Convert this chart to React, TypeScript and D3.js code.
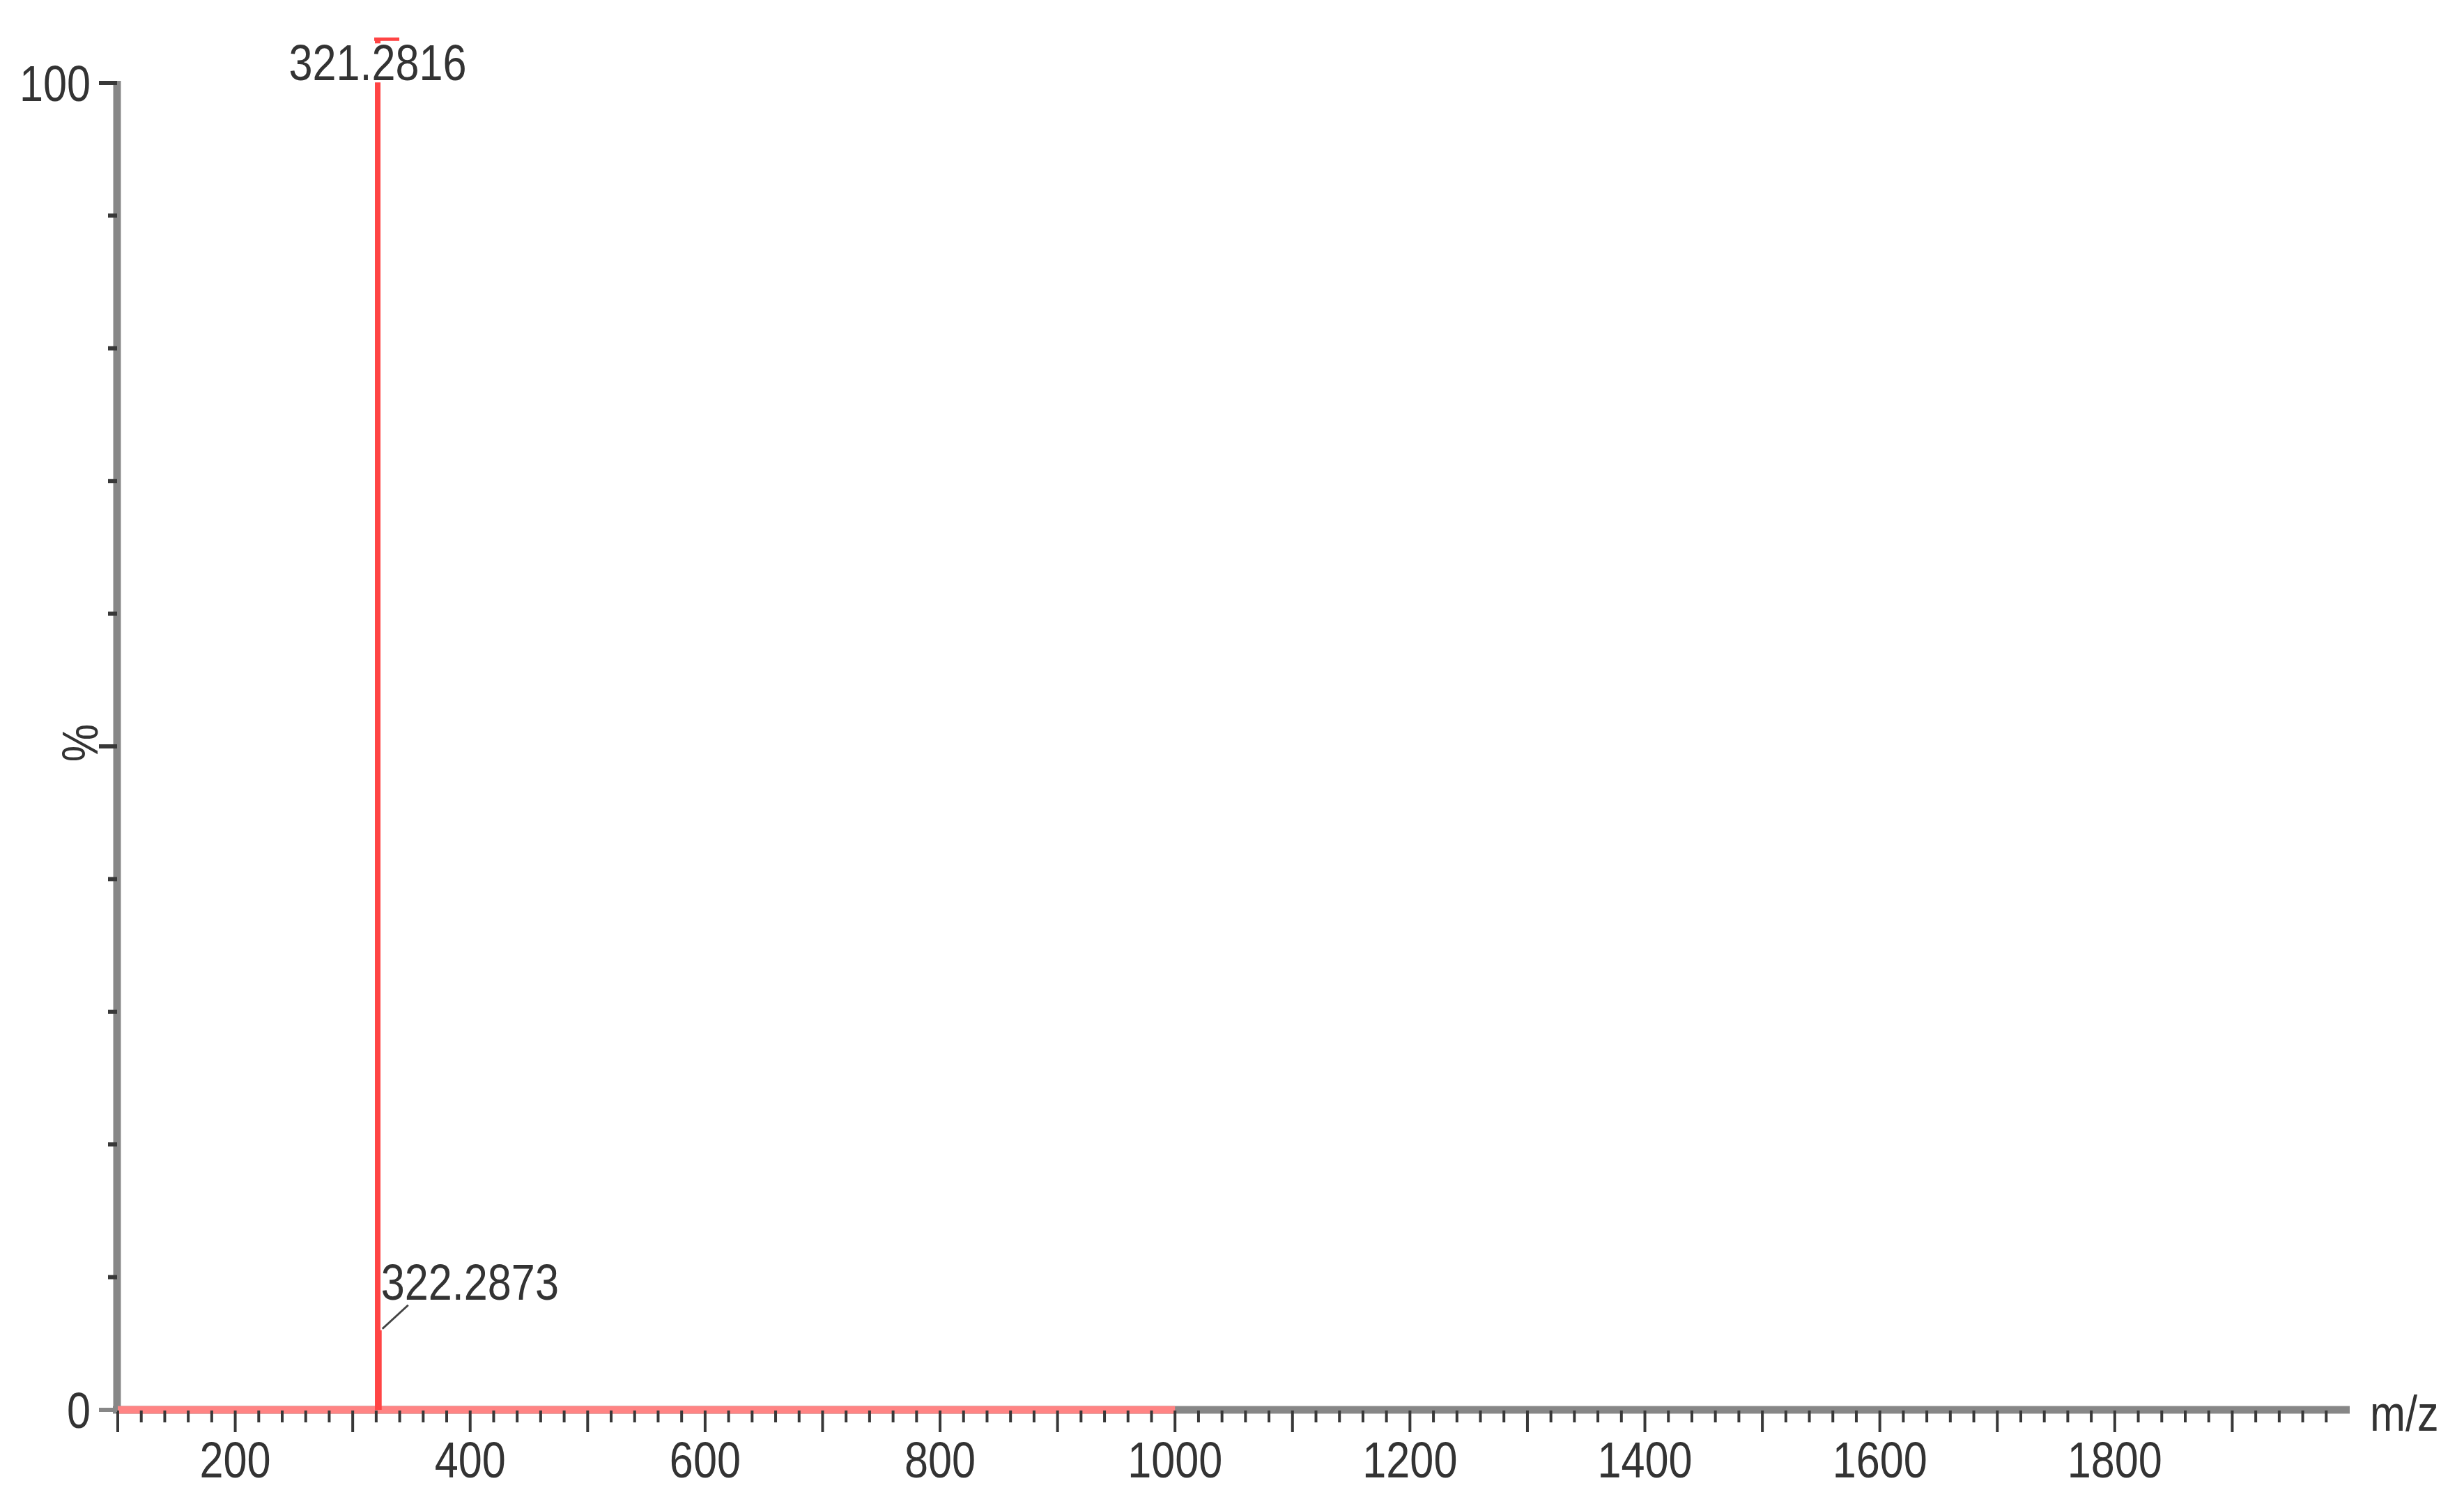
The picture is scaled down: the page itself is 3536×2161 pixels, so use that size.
import React from "react";
import * as d3 from "d3";

const peakMz = [321.2816, 322.2873];
const peakIntensity = [103.4, 6.0];
const peakLabels = ["321.2816", "322.2873"];
const acquiredRange = [100, 1000];
const xDomain = [100, 2000];
const xLabelTicks = [200, 400, 600, 800, 1000, 1200, 1400, 1600, 1800];
const yLabelTicks = [0, 100];
const yMajorTicks = [0, 50, 100];
const yMinorTicks = [10, 20, 30, 40, 60, 70, 80, 90];

const W = 3536;
const H = 2161;
const FONT = "'Liberation Sans', Arial, sans-serif";
const NARROW = 0.85;

function T(props: { x: number; y: number; anchor?: string; rotate?: number; children: any }) {
  const { x, y, anchor, rotate, children } = props;
  return (
    <text
      transform={`translate(${x},${y})${rotate ? ` rotate(${rotate})` : ""} scale(${NARROW},1)`}
      textAnchor={anchor || "start"}
      fontSize={72}
      fill="#333"
    >
      {children}
    </text>
  );
}

export default function App() {
  const x = d3.scaleLinear().domain(xDomain).range([169, 3372]);
  const y = d3.scaleLinear().domain([0, 100]).range([2023, 119]);
  const minorX = d3.range(100, 1981, 20);
  const y0 = y(0);
  const axisGray = "#878787";
  const tickCol = "#383838";

  const p0x = x(peakMz[0]);
  const p0y = y(peakIntensity[0]);
  const p1x = x(peakMz[1]);
  const p1y = y(peakIntensity[1]);

  return (
    <svg width={W} height={H} style={{ position: "absolute", left: 0, top: 0, background: "#fff" }} fontFamily={FONT}>
      <rect x={0} y={0} width={W} height={H} fill="#fff" />
      {/* y axis */}
      <line x1={168} x2={168} y1={y(100) - 3} y2={y0 + 5} stroke={axisGray} strokeWidth={11} />
      {/* x axis */}
      <line x1={162} x2={x(2000)} y1={y0} y2={y0} stroke={axisGray} strokeWidth={11} />
      {/* red acquired baseline */}
      <line x1={x(acquiredRange[0])} x2={x(acquiredRange[1])} y1={y0} y2={y0} stroke="#ff8484" strokeWidth={11} />
      {/* x ticks */}
      {minorX.map((v) => (
        <line key={"xt" + v} x1={x(v)} x2={x(v)} y1={y0 + 1} y2={v % 100 === 0 ? y0 + 32 : y0 + 18} stroke={tickCol} strokeWidth={4} />
      ))}
      {xLabelTicks.map((v) => (
        <T key={"xl" + v} x={x(v)} y={2120} anchor="middle">{v}</T>
      ))}
      {/* y ticks */}
      {yMajorTicks.map((v) => (
        <line key={"yt" + v} x1={142} x2={168} y1={y(v)} y2={y(v)} stroke={v === 0 ? axisGray : tickCol} strokeWidth={6} />
      ))}
      {yMinorTicks.map((v) => (
        <line key={"ym" + v} x1={155} x2={168} y1={y(v)} y2={y(v)} stroke={tickCol} strokeWidth={6} />
      ))}
      {yLabelTicks.map((v) => (
        <T key={"yl" + v} x={130} y={y(v) + 26} anchor="end">{v}</T>
      ))}
      <T x={140} y={1066} anchor="middle" rotate={-90}>%</T>
      <T x={3401} y={2053}>m/z</T>
      {/* peaks */}
      <line x1={p0x} x2={p0x} y1={y0} y2={p0y} stroke="#ff4444" strokeWidth={8} />
      <line x1={p0x - 5} x2={p0x + 31} y1={p0y + 2} y2={p0y + 2} stroke="#ff4444" strokeWidth={5} />
      <line x1={p1x} x2={p1x} y1={y0} y2={p1y} stroke="#ff4444" strokeWidth={8} />
      <rect x={p0x - 130} y={p0y + 8} width={260} height={56} fill="#fff" />
      <T x={p0x} y={p0y + 61} anchor="middle">{peakLabels[0]}</T>
      <line x1={p1x + 5} y1={p1y - 2} x2={p1x + 42} y2={p1y - 36} stroke="#444" strokeWidth={3} />
      <T x={p1x + 3} y={p1y - 44}>{peakLabels[1]}</T>
    </svg>
  );
}
